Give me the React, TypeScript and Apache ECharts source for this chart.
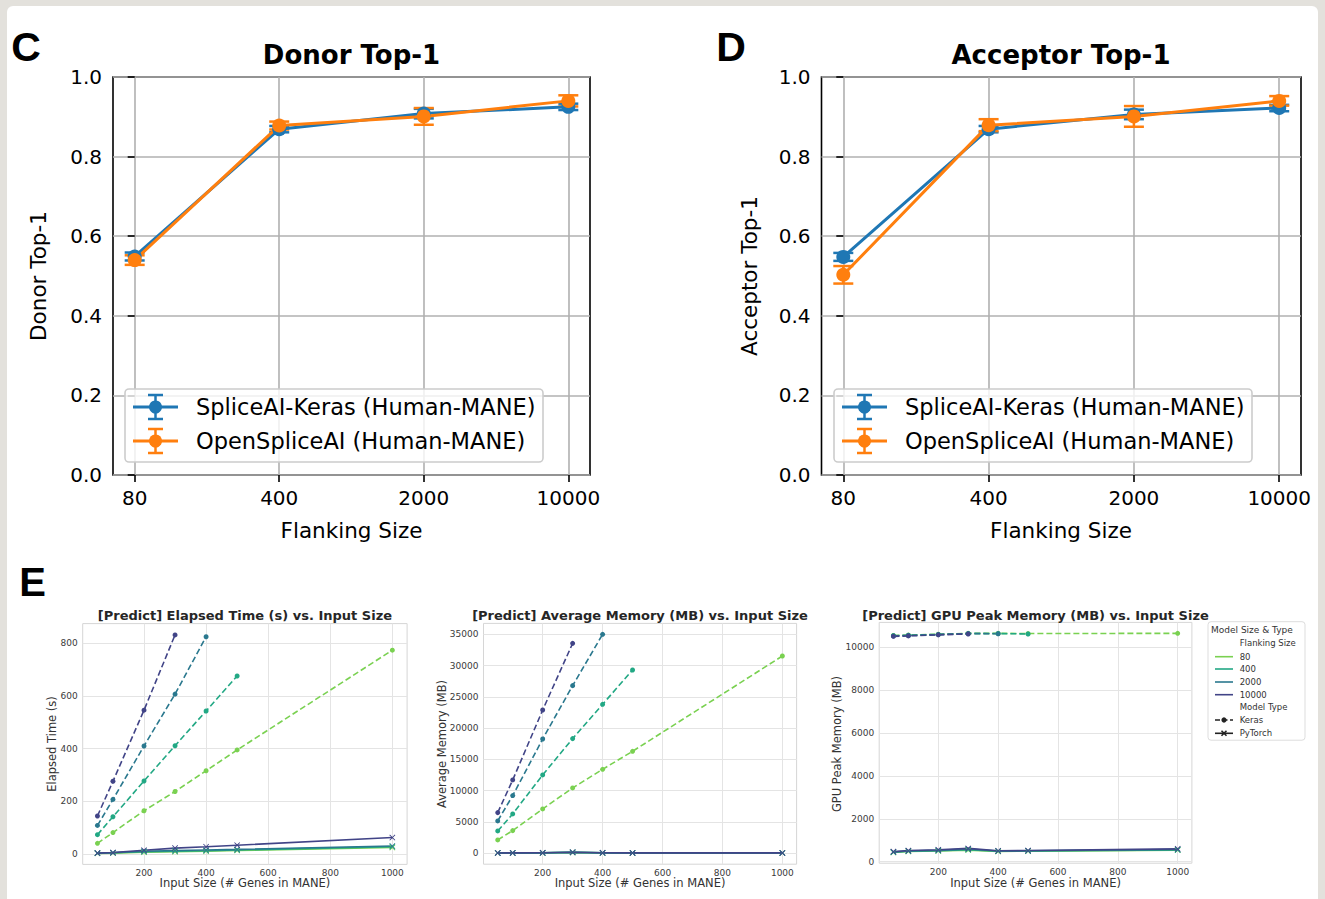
import React, { useEffect, useRef } from 'react';
import * as echarts from 'echarts';

// ---------- Panels C / D ----------
const flankLabels = ['80', '400', '2000', '10000'];
const donorKeras = [0.549, 0.869, 0.908, 0.925];
const donorKerasErr = [0.01, 0.008, 0.012, 0.008];
const donorOpen = [0.54, 0.878, 0.901, 0.94];
const donorOpenErr = [0.012, 0.01, 0.021, 0.014];
const accKeras = [0.548, 0.869, 0.906, 0.922];
const accKerasErr = [0.01, 0.008, 0.012, 0.008];
const accOpen = [0.503, 0.879, 0.901, 0.94];
const accOpenErr = [0.022, 0.015, 0.026, 0.012];
const topTicks = [0, 0.2, 0.4, 0.6, 0.8, 1.0];

// ---------- Panel E ----------
const inputSizes = [50, 100, 200, 300, 400, 500, 1000];
const inputTicks = [200, 400, 600, 800, 1000];
const flankSizes = ['80', '400', '2000', '10000'];
const flankColors = ['#7ad151', '#22a884', '#2a788e', '#414487'];

const timeKeras80 = [40, 81, 164, 237, 316, 395, 774];
const timeKeras400 = [73, 141, 277, 411, 543, 676];
const timeKeras2000 = [108, 207, 410, 607, 825];
const timeKeras10000 = [144, 276, 546, 832];
const timeTorch80 = [2, 3, 6, 8, 10, 13, 24];
const timeTorch400 = [2, 4, 8, 10, 12, 15, 27];
const timeTorch2000 = [3, 4, 10, 13, 15, 17, 30];
const timeTorch10000 = [3, 5, 14, 22, 27, 33, 62];
const timeTicks = [0, 200, 400, 600, 800];

const memKeras80 = [2130, 3620, 7090, 10440, 13420, 16300, 31540];
const memKeras400 = [3570, 6290, 12520, 18330, 23810, 29300];
const memKeras2000 = [5170, 9220, 18270, 26800, 35000];
const memKeras10000 = [6500, 11720, 22900, 33560];
const memTorch80 = [40, 50, 60, 130, 60, 50, 50];
const memTorch400 = [40, 50, 60, 140, 60, 50, 50];
const memTorch2000 = [45, 55, 65, 150, 65, 55, 55];
const memTorch10000 = [50, 60, 70, 160, 70, 60, 60];
const memTicks = [0, 5000, 10000, 15000, 20000, 25000, 30000, 35000];

const gpuKeras80 = [10550, 10570, 10610, 10650, 10650, 10640, 10650];
const gpuKeras400 = [10540, 10560, 10600, 10640, 10640, 10620];
const gpuKeras2000 = [10530, 10550, 10590, 10640, 10630];
const gpuKeras10000 = [10510, 10530, 10580, 10620];
const gpuTorch80 = [430, 480, 500, 540, 480, 490, 540];
const gpuTorch400 = [440, 490, 510, 560, 490, 500, 550];
const gpuTorch2000 = [450, 500, 530, 590, 500, 510, 570];
const gpuTorch10000 = [470, 520, 560, 620, 510, 520, 600];
const gpuTicks = [0, 2000, 4000, 6000, 8000, 10000];

const FONT = '"DejaVu Sans", sans-serif';
const BLUE = '#1f77b4';
const ORANGE = '#ff7f0e';
const XSYM = 'path://M1,0 L5,4 L9,0 L10,1 L6,5 L10,9 L9,10 L5,6 L1,10 L0,9 L4,5 L0,1 Z';
const plain = (v: number) => String(Math.round(v));

function errSeries(idx: number, vals: number[], errs: number[], color: string) {
  return {
    type: 'custom',
    xAxisIndex: idx,
    yAxisIndex: idx,
    z: 3,
    encode: { x: 0, y: [1, 2] },
    data: vals.map((v, i) => [i, v - errs[i], v + errs[i]]),
    renderItem: (params: any, api: any) => {
      const x = api.value(0);
      const lo = api.coord([x, api.value(1)]);
      const hi = api.coord([x, api.value(2)]);
      const st = { stroke: color, lineWidth: 2.5 };
      return {
        type: 'group',
        children: [
          { type: 'line', shape: { x1: lo[0], y1: lo[1], x2: hi[0], y2: hi[1] }, style: st },
          { type: 'line', shape: { x1: lo[0] - 10, y1: lo[1], x2: lo[0] + 10, y2: lo[1] }, style: st },
          { type: 'line', shape: { x1: hi[0] - 10, y1: hi[1], x2: hi[0] + 10, y2: hi[1] }, style: st },
        ],
      };
    },
  };
}

function topLine(idx: number, vals: number[], color: string) {
  return {
    type: 'line',
    xAxisIndex: idx,
    yAxisIndex: idx,
    z: 4,
    data: vals.map((v, i) => [i, v]),
    symbol: 'circle',
    symbolSize: 14,
    showSymbol: true,
    lineStyle: { color, width: 3 },
    itemStyle: { color },
  };
}

function eLine(idx: number, vals: number[], color: string, keras: boolean) {
  return {
    type: 'line',
    xAxisIndex: idx,
    yAxisIndex: idx,
    data: vals.map((v, i) => [inputSizes[i], v]),
    symbol: keras ? 'circle' : XSYM,
    symbolSize: keras ? 5 : 6,
    showSymbol: true,
    lineStyle: { color, width: 1.6, type: keras ? [6, 3] : 'solid' },
    itemStyle: { color },
  };
}

function topXAxis(idx: number) {
  return {
    gridIndex: idx,
    type: 'value',
    min: -0.15,
    max: 3.15,
    axisLine: { show: false },
    axisTick: { show: true, customValues: [0, 1, 2, 3], length: 7, lineStyle: { color: '#000', width: 1.6 } },
    axisLabel: {
      customValues: [0, 1, 2, 3],
      formatter: (v: number) => flankLabels[Math.round(v)] ?? '',
      fontSize: 20, color: '#000', fontFamily: FONT, margin: 13,
    },
    splitLine: { show: true, lineStyle: { color: '#b0b0b0', width: 1.6 } },
  };
}

function topYAxis(idx: number) {
  return {
    gridIndex: idx,
    type: 'value',
    min: 0,
    max: 1,
    axisLine: { show: false },
    axisTick: { show: true, customValues: topTicks, length: 7, lineStyle: { color: '#000', width: 1.6 } },
    axisLabel: {
      customValues: topTicks,
      formatter: (v: number) => v.toFixed(1),
      fontSize: 20, color: '#000', fontFamily: FONT, margin: 11,
    },
    splitLine: { show: true, lineStyle: { color: '#b0b0b0', width: 1.6 } },
  };
}

function eXAxis(idx: number) {
  return {
    gridIndex: idx,
    type: 'value',
    min: 2.5,
    max: 1047.5,
    axisLine: { show: false },
    axisTick: { show: false, customValues: inputTicks },
    axisLabel: { customValues: inputTicks, formatter: plain, fontSize: 9, color: '#3a3a3a', fontFamily: FONT, margin: 4 },
    splitLine: { show: true, lineStyle: { color: '#e4e4e4', width: 1 } },
  };
}

function eYAxis(idx: number, min: number, max: number, ticks: number[]) {
  return {
    gridIndex: idx,
    type: 'value',
    min,
    max,
    axisLine: { show: false },
    axisTick: { show: false, customValues: ticks },
    axisLabel: { customValues: ticks, formatter: plain, fontSize: 9, color: '#3a3a3a', fontFamily: FONT, margin: 5 },
    splitLine: { show: true, lineStyle: { color: '#e4e4e4', width: 1 } },
  };
}

function txt(text: string, x: number, y: number, size: number, opts: any = {}) {
  return {
    type: 'text',
    x,
    y,
    z: 100,
    rotation: opts.rotation || 0,
    style: {
      text,
      fontSize: size,
      fontFamily: opts.family || FONT,
      fontWeight: opts.bold ? 'bold' : 'normal',
      fill: opts.color || '#000',
      align: opts.align || 'center',
      verticalAlign: 'middle',
    },
  };
}

function topLegend(x0: number, y0: number) {
  const els: any[] = [];
  els.push({
    type: 'rect', z: 100,
    shape: { x: x0, y: y0, width: 418, height: 73, r: 4 },
    style: { fill: 'rgba(255,255,255,0.8)', stroke: '#cccccc', lineWidth: 1.6 },
  });
  const rows = [
    { y: y0 + 18, color: BLUE, label: 'SpliceAI-Keras (Human-MANE)' },
    { y: y0 + 52, color: ORANGE, label: 'OpenSpliceAI (Human-MANE)' },
  ];
  rows.forEach((r) => {
    const cx = x0 + 30.5;
    const st = { stroke: r.color, lineWidth: 2.5 };
    els.push({ type: 'line', z: 101, shape: { x1: x0 + 8, y1: r.y, x2: x0 + 53, y2: r.y }, style: { stroke: r.color, lineWidth: 3 } });
    els.push({ type: 'line', z: 101, shape: { x1: cx, y1: r.y - 12, x2: cx, y2: r.y + 12 }, style: st });
    els.push({ type: 'line', z: 101, shape: { x1: cx - 7.5, y1: r.y - 12, x2: cx + 7.5, y2: r.y - 12 }, style: st });
    els.push({ type: 'line', z: 101, shape: { x1: cx - 7.5, y1: r.y + 12, x2: cx + 7.5, y2: r.y + 12 }, style: st });
    els.push({ type: 'circle', z: 102, shape: { cx, cy: r.y, r: 6.5 }, style: { fill: r.color } });
    els.push(txt(r.label, x0 + 71, r.y, 22.5, { align: 'left' }));
  });
  return els;
}

function eLegend() {
  const els: any[] = [];
  const x0 = 1208;
  const y0 = 621.7;
  els.push({
    type: 'rect', z: 100,
    shape: { x: x0, y: y0, width: 97, height: 118.5, r: 3 },
    style: { fill: '#ffffff', stroke: '#dddddd', lineWidth: 1 },
  });
  const c = '#333333';
  els.push(txt('Model Size & Type', 1211, 630, 9, { align: 'left', color: c }));
  els.push(txt('Flanking Size', 1239.7, 643.3, 8.5, { align: 'left', color: c }));
  const ys = [656.7, 669, 682, 694.7];
  flankSizes.forEach((f, i) => {
    els.push({ type: 'line', z: 101, shape: { x1: 1215, y1: ys[i], x2: 1233, y2: ys[i] }, style: { stroke: flankColors[i], lineWidth: 1.6 } });
    els.push(txt(f, 1239.7, ys[i], 8.5, { align: 'left', color: c }));
  });
  els.push(txt('Model Type', 1239.7, 707.3, 8.5, { align: 'left', color: c }));
  // Keras
  els.push({ type: 'line', z: 101, shape: { x1: 1215, y1: 720, x2: 1233, y2: 720 }, style: { stroke: '#222', lineWidth: 1.6, lineDash: [5, 2.5] } });
  els.push({ type: 'circle', z: 102, shape: { cx: 1224, cy: 720, r: 2.6 }, style: { fill: '#222' } });
  els.push(txt('Keras', 1239.7, 720, 8.5, { align: 'left', color: c }));
  // PyTorch
  els.push({ type: 'line', z: 101, shape: { x1: 1215, y1: 733.3, x2: 1233, y2: 733.3 }, style: { stroke: '#222', lineWidth: 1.6 } });
  els.push({ type: 'line', z: 102, shape: { x1: 1221.5, y1: 730.8, x2: 1226.5, y2: 735.8 }, style: { stroke: '#222', lineWidth: 1.6 } });
  els.push({ type: 'line', z: 102, shape: { x1: 1221.5, y1: 735.8, x2: 1226.5, y2: 730.8 }, style: { stroke: '#222', lineWidth: 1.6 } });
  els.push(txt('PyTorch', 1239.7, 733.3, 8.5, { align: 'left', color: c }));
  return els;
}

export default function App() {
  const ref = useRef<HTMLDivElement>(null);
  useEffect(() => {
    if (!ref.current) return;
    const chart = echarts.init(ref.current, null, { renderer: 'svg' });

    const topGrid = (left: number, width: number) => ({
      left, top: 77, width, height: 398, show: true, borderColor: '#000', borderWidth: 1.6,
      backgroundColor: 'transparent', containLabel: false, outerBoundsMode: 'none',
    });
    const eGrid = (left: number, top: number, width: number) => ({
      left, top, width, height: 240.8, show: true, borderColor: '#d6d6d6', borderWidth: 1,
      containLabel: false, outerBoundsMode: 'none',
    });

    const series: any[] = [
      errSeries(0, donorKeras, donorKerasErr, BLUE),
      topLine(0, donorKeras, BLUE),
      errSeries(0, donorOpen, donorOpenErr, ORANGE),
      topLine(0, donorOpen, ORANGE),
      errSeries(1, accKeras, accKerasErr, BLUE),
      topLine(1, accKeras, BLUE),
      errSeries(1, accOpen, accOpenErr, ORANGE),
      topLine(1, accOpen, ORANGE),
    ];
    const eSets = [
      { idx: 2, keras: [timeKeras80, timeKeras400, timeKeras2000, timeKeras10000], torch: [timeTorch80, timeTorch400, timeTorch2000, timeTorch10000] },
      { idx: 3, keras: [memKeras80, memKeras400, memKeras2000, memKeras10000], torch: [memTorch80, memTorch400, memTorch2000, memTorch10000] },
      { idx: 4, keras: [gpuKeras80, gpuKeras400, gpuKeras2000, gpuKeras10000], torch: [gpuTorch80, gpuTorch400, gpuTorch2000, gpuTorch10000] },
    ];
    eSets.forEach((s) => {
      flankSizes.forEach((_, i) => {
        series.push(eLine(s.idx, s.keras[i], flankColors[i], true));
        series.push(eLine(s.idx, s.torch[i], flankColors[i], false));
      });
    });

    const graphics: any[] = [
      txt('C', 26, 47, 41, { bold: true, family: '"Liberation Sans", Arial, sans-serif' }),
      txt('D', 731, 47, 41, { bold: true, family: '"Liberation Sans", Arial, sans-serif' }),
      txt('E', 32.5, 582, 40, { bold: true, family: '"Liberation Sans", Arial, sans-serif' }),
      txt('Donor Top-1', 351.5, 55, 26, { bold: true }),
      txt('Acceptor Top-1', 1061, 55, 26, { bold: true }),
      txt('Flanking Size', 351.5, 530, 21.5),
      txt('Flanking Size', 1061, 530, 21.5),
      txt('Donor Top-1', 38.5, 276, 21.5, { rotation: Math.PI / 2 }),
      txt('Acceptor Top-1', 749, 276, 21.5, { rotation: Math.PI / 2 }),
      txt('[Predict] Elapsed Time (s) vs. Input Size', 244.9, 615, 13, { bold: true, color: '#262626' }),
      txt('[Predict] Average Memory (MB) vs. Input Size', 640, 615, 13, { bold: true, color: '#262626' }),
      txt('[Predict] GPU Peak Memory (MB) vs. Input Size', 1035.5, 615, 13, { bold: true, color: '#262626' }),
      txt('Input Size (# Genes in MANE)', 244.9, 883, 11.5, { color: '#333' }),
      txt('Input Size (# Genes in MANE)', 640, 883, 11.5, { color: '#333' }),
      txt('Input Size (# Genes in MANE)', 1035.5, 883, 11.5, { color: '#333' }),
      txt('Elapsed Time (s)', 51.7, 744, 11.5, { rotation: Math.PI / 2, color: '#333' }),
      txt('Average Memory (MB)', 441.5, 744, 11.5, { rotation: Math.PI / 2, color: '#333' }),
      txt('GPU Peak Memory (MB)', 837, 744, 11.5, { rotation: Math.PI / 2, color: '#333' }),
      ...topLegend(125, 389),
      ...topLegend(834, 389),
      ...eLegend(),
    ];

    chart.setOption({
      animation: false,
      textStyle: { fontFamily: FONT },
      grid: [
        topGrid(113, 477),
        topGrid(821.5, 479.5),
        eGrid(82.7, 623.6, 324.4),
        eGrid(483.5, 623.4, 313.1),
        eGrid(879.2, 622.4, 312.7),
      ],
      xAxis: [topXAxis(0), topXAxis(1), eXAxis(2), eXAxis(3), eXAxis(4)],
      yAxis: [
        topYAxis(0),
        topYAxis(1),
        eYAxis(2, -40, 875, timeTicks),
        eYAxis(3, -1750, 36750, memTicks),
        eYAxis(4, -70, 11160, gpuTicks),
      ],
      series,
      graphic: graphics,
    });
    return () => chart.dispose();
  }, []);

  return (
    <div style={{ position: 'fixed', left: 0, top: 0, width: 1325, height: 899, background: '#e3e1dc', overflow: 'hidden' }}>
      <div style={{ position: 'absolute', left: 7, top: 6, width: 1311, height: 893, background: '#ffffff', borderTopLeftRadius: 6, borderTopRightRadius: 6 }} />
      <div ref={ref} style={{ position: 'absolute', left: 0, top: 0, width: 1325, height: 899 }} />
    </div>
  );
}
